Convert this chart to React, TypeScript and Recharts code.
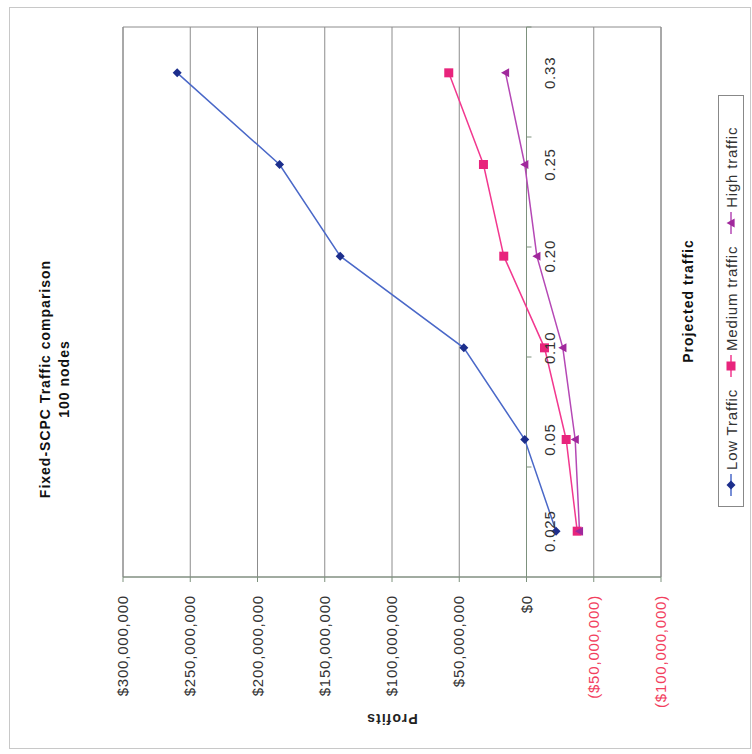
import { LineChart, Line, XAxis, YAxis, CartesianGrid, ReferenceLine, ReferenceDot, ReferenceArea } from 'recharts';

// projected traffic rate per node (category axis)
const RATES = ['0.025', '0.05', '0.10', '0.20', '0.25', '0.33'];

// profits in dollars, one value per rate
const LOW_TRAFFIC = [-22_000_000, 1_300_000, 46_600_000, 138_500_000, 183_600_000, 259_700_000];
const MEDIUM_TRAFFIC = [-37_700_000, -29_500_000, -13_400_000, 16_900_000, 32_000_000, 57_800_000];
const HIGH_TRAFFIC = [-39_400_000, -36_200_000, -27_000_000, -7_700_000, 1_300_000, 15_600_000];

const PROFIT_TICKS = [-100_000_000, -50_000_000, 0, 50_000_000, 100_000_000, 150_000_000, 200_000_000, 250_000_000, 300_000_000];

const rows = RATES.map((rate, i) => ({
  rate,
  low: LOW_TRAFFIC[i],
  medium: MEDIUM_TRAFFIC[i],
  high: HIGH_TRAFFIC[i],
}));

// boundaries between categories, on a hidden 0..n number axis
const BOUNDARIES = RATES.slice(1).map((_, i) => i + 1);

const FONT = '"Liberation Sans", Arial, sans-serif';
const AXIS = '#7d917d';
const GRID = '#8c8c8c';
const LOW_LINE = '#4a68c8';
const LOW_DOT = '#1c2e8c';
const MED_LINE = '#f2388f';
const MED_DOT = '#e8247c';
const HIGH_LINE = '#b548b5';
const HIGH_DOT = '#a0289c';

const money = (v: number) => {
  const s = '$' + Math.abs(v).toLocaleString('en-US');
  return v < 0 ? `(${s})` : s;
};

const ProfitTick = ({ x, y, payload }: any) => (
  <text
    x={x}
    y={y}
    dy={5}
    textAnchor="end"
    fontSize={15}
    letterSpacing={0.8}
    fontFamily={FONT}
    fill={payload.value < 0 ? '#f2405e' : '#333'}
  >
    {money(payload.value)}
  </text>
);

const diamond = (cx: number, cy: number, s: number) =>
  `M${cx},${cy - s} L${cx + s},${cy} L${cx},${cy + s} L${cx - s},${cy} Z`;
const square = (cx: number, cy: number, s: number) =>
  `M${cx - s},${cy - s} H${cx + s} V${cy + s} H${cx - s} Z`;
const triangle = (cx: number, cy: number, s: number) =>
  `M${cx},${cy - s} L${cx + s},${cy + s * 0.8} L${cx - s},${cy + s * 0.8} Z`;

const makeDot = (shape: (cx: number, cy: number, s: number) => string, size: number, color: string) =>
  (props: any) => {
    const { cx, cy, index } = props;
    if (cx == null || cy == null) return <g key={index} />;
    return <path key={index} d={shape(cx, cy, size)} fill={color} />;
  };

const series = [
  { key: 'low', name: 'Low Traffic', line: LOW_LINE, dot: LOW_DOT, shape: diamond, size: 4.5 },
  { key: 'medium', name: 'Medium traffic', line: MED_LINE, dot: MED_DOT, shape: square, size: 4.5 },
  { key: 'high', name: 'High traffic', line: HIGH_LINE, dot: HIGH_DOT, shape: triangle, size: 4.5 },
];

const LegendBox = () => (
  <div
    style={{
      position: 'absolute',
      left: 247,
      top: 718,
      width: 412,
      height: 26,
      border: '1px solid #888',
      display: 'flex',
      alignItems: 'center',
      paddingLeft: 10,
      gap: 12,
      boxSizing: 'border-box',
      fontFamily: FONT,
      fontSize: 15,
      letterSpacing: 0.8,
      color: '#333',
    }}
  >
    {series.map((s) => (
      <div key={s.key} style={{ display: 'flex', alignItems: 'center' }}>
        <svg width={22} height={12} style={{ marginRight: 4 }}>
          <line x1={0} y1={6} x2={22} y2={6} stroke={s.line} strokeWidth={1.5} />
          <path d={s.shape(11, 6, s.size)} fill={s.dot} />
        </svg>
        <span>{s.name}</span>
      </div>
    ))}
  </div>
);

export default function App() {
  return (
    <div style={{ position: 'absolute', left: 0, top: 0, width: 752, height: 754, overflow: 'hidden', background: '#fff' }}>
      <div
        style={{
          position: 'absolute',
          left: 0,
          top: 0,
          width: 754,
          height: 752,
          transform: 'translate(0px, 754px) rotate(-90deg)',
          transformOrigin: '0 0',
          fontFamily: FONT,
        }}
      >
        <div style={{ position: 'absolute', left: 5, top: 9, width: 740, height: 740, border: '1px solid #c8c8c8' }} />

        <div
          style={{
            position: 'absolute',
            left: 0,
            top: 36,
            width: 750,
            textAlign: 'center',
            fontWeight: 'bold',
            fontSize: 14,
            letterSpacing: 1,
            lineHeight: '19px',
            color: '#111',
          }}
        >
          <div>Fixed-SCPC Traffic comparison</div>
          <div>100 nodes</div>
        </div>

        <LineChart width={754} height={752} data={rows} margin={{ top: 123, right: 27, bottom: 91, left: 0 }}>
          <CartesianGrid vertical={false} stroke={GRID} />
          <ReferenceArea y1={-100_000_000} y2={300_000_000} fill="none" stroke={GRID} ifOverflow="visible" />
          <XAxis dataKey="rate" scale="band" hide />
          <XAxis xAxisId="between" type="number" domain={[0, RATES.length]} hide />
          <YAxis
            width={177}
            domain={[-100_000_000, 300_000_000]}
            ticks={PROFIT_TICKS}
            interval={0}
            tickSize={5}
            tickMargin={13}
            axisLine={{ stroke: AXIS }}
            tickLine={{ stroke: AXIS }}
            tick={ProfitTick}
            label={{
              value: 'Profits',
              angle: -90,
              position: 'insideLeft',
              offset: 35,
              fill: '#222',
              fontSize: 14,
              fontWeight: 'bold',
              letterSpacing: 1,
              style: { textAnchor: 'middle' },
            }}
          />
          <ReferenceLine y={0} stroke={AXIS} />
          {BOUNDARIES.map((b) => (
            <ReferenceLine
              key={b}
              xAxisId="between"
              segment={[{ x: b, y: 0 }, { x: b, y: -3_700_000 }]}
              stroke={AXIS}
            />
          ))}
          {RATES.map((rate) => (
            <ReferenceDot
              key={rate}
              x={rate}
              y={0}
              r={0}
              fill="none"
              stroke="none"
              label={{ value: rate, position: 'bottom', offset: 18, fill: '#333', fontSize: 15, letterSpacing: 0.8 }}
            />
          ))}
          {series.map((s) => (
            <Line
              key={s.key}
              dataKey={s.key}
              name={s.name}
              type="linear"
              stroke={s.line}
              strokeWidth={1.5}
              dot={makeDot(s.shape, s.size, s.dot)}
              activeDot={false}
              isAnimationActive={false}
            />
          ))}
        </LineChart>

        <div
          style={{
            position: 'absolute',
            left: 353,
            top: 679,
            width: 200,
            textAlign: 'center',
            fontWeight: 'bold',
            fontSize: 14,
            letterSpacing: 1,
            lineHeight: '18px',
            color: '#111',
          }}
        >
          Projected traffic
        </div>
        <LegendBox />
      </div>
    </div>
  );
}
